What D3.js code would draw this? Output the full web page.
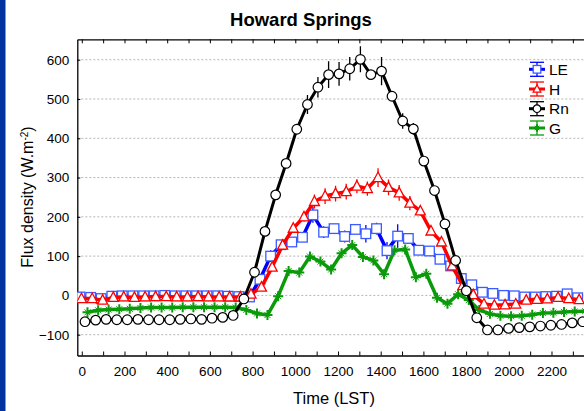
<!DOCTYPE html>
<html><head><meta charset="utf-8">
<script src="https://cdn.jsdelivr.net/npm/d3@7"></script>
<style>
body{margin:0;background:#fff;}
text{font-family:"Liberation Sans",Arial,sans-serif;}
</style></head>
<body><svg id="c" width="584" height="411"></svg>
<script>
// half-hourly sample positions on the time axis
const time = [15,65,114,164,213,263,313,362,412,461,511,561,610,660,709,759,809,858,908,957,1007,1057,1106,1156,1205,1255,1305,1354,1404,1453,1503,1553,1602,1652,1701,1751,1801,1850,1900,1949,1999,2049,2098,2148,2197,2247,2297,2346];
const LE = [-4,-5,-8,-2,-1,-1,-1,-1,0,-1,-1,-1,-1,-1,-2,-3,-4,41,100,129,136,148,205,161,170,150,168,157,170,114,151,145,115,113,92,75,43,27,8,5,0,-1,-4,-4,-3,-2,4,-6];
const LE_err = [2,2,2,2,2,2,2,2,2,2,2,2,2,2,2,2,2,6,15,10,10,12,20,15,12,15,10,22,15,22,30,12,8,6,6,5,5,3,3,3,3,3,3,3,3,3,3,3];
const H = [-8,-8,-12,-5,-4,-5,-4,-3,-3,-4,-4,-3,-4,-4,-4,-4,3,21,72,128,171,200,239,253,259,264,278,272,300,275,261,235,215,164,136,75,25,2,-22,-25,-24,-22,-12,-10,-9,-5,-8,-11];
const H_err = [3,3,3,3,3,3,3,3,3,3,3,3,3,3,3,3,4,6,8,10,10,12,18,20,20,20,18,18,24,20,20,18,12,10,8,6,5,3,3,3,3,3,3,3,3,3,3,3];
const Rn = [-67,-63,-61,-62,-62,-61,-62,-62,-62,-61,-60,-61,-58,-56,-51,-9,59,163,256,336,423,486,530,562,564,577,601,562,571,507,444,424,342,267,182,89,12,-57,-88,-88,-84,-82,-80,-78,-76,-74,-70,-67];
const Rn_err = [3,3,3,3,3,3,3,3,3,3,3,3,3,3,3,5,8,10,10,10,10,24,26,34,30,30,33,10,36,12,20,15,10,8,6,5,5,4,3,3,3,3,3,3,3,3,3,3];
const G = [-43,-38,-36,-35,-34,-32,-31,-31,-31,-30,-30,-30,-30,-30,-31,-37,-46,-50,-2,62,58,99,86,66,107,128,98,89,54,115,117,46,55,-6,-21,3,-12,-37,-47,-52,-53,-52,-49,-45,-44,-42,-41,-40];
const G_err = [2,2,2,2,2,2,2,2,2,2,2,2,2,2,2,2,2,2,6,6,6,6,6,6,6,6,6,6,6,6,6,6,6,6,6,6,6,3,3,3,3,3,3,3,3,3,3,3];

const yTicks = [-100,0,100,200,300,400,500,600];
const xTickLabels = [0,200,400,600,800,1000,1200,1400,1600,1800,2000,2200];
const xTicks = [0,100,200,300,400,500,600,700,800,900,1000,1100,1200,1300,1400,1500,1600,1700,1800,1900,2000,2100,2200,2300];
const seriesNames = ["LE","H","Rn","G"];

const svg = d3.select("#c");
const L = 77.3, R = 594.2, T = 39.3, B = 355.5;
const x = d3.scaleLinear().domain([-21, 2400]).range([L, R]);
const y = d3.scaleLinear().domain([-153, 652]).range([B, T]);

// left blue strip
svg.append("rect").attr("x",0).attr("y",0).attr("width",5.5).attr("height",411).attr("fill","#0033a0");

// title
svg.append("text").attr("x",301).attr("y",26).attr("text-anchor","middle")
  .attr("font-size","18.5px").attr("font-weight","bold").text("Howard Springs");

// gridlines
svg.append("g").selectAll("line").data(yTicks).join("line")
  .attr("x1",L).attr("x2",R).attr("y1",d=>y(d)).attr("y2",d=>y(d))
  .attr("stroke","#b4b4b4").attr("stroke-width",1).attr("stroke-dasharray","2,2");

// axes
const fmt = d => xTickLabels.includes(d) ? String(d) : "";
const gx = svg.append("g").attr("transform",`translate(0,${B})`)
  .call(d3.axisBottom(x).tickValues(xTicks).tickFormat(fmt).tickSizeInner(-4).tickSizeOuter(0).tickPadding(11));
const gxt = svg.append("g").attr("transform",`translate(0,${T})`)
  .call(d3.axisTop(x).tickValues(xTicks).tickFormat("").tickSizeInner(-4).tickSizeOuter(0));
const gy = svg.append("g").attr("transform",`translate(${L},0)`)
  .call(d3.axisLeft(y).tickValues(yTicks).tickSizeInner(-3).tickSizeOuter(0).tickPadding(8));
[gx,gxt,gy].forEach(g=>{
  g.selectAll("text").attr("font-size","13.5px").attr("fill","#000").attr("font-family","Liberation Sans, Arial, sans-serif");
  g.selectAll("line").attr("stroke","#000");
  g.select(".domain").attr("stroke","#000").attr("stroke-width",1.3);
});

// axis titles
svg.append("text").attr("x",334).attr("y",404).attr("text-anchor","middle")
  .attr("font-size","16.5px").text("Time (LST)");
const yl = svg.append("text").attr("transform","translate(33,197) rotate(-90)")
  .attr("text-anchor","middle").attr("font-size","16px");
yl.append("tspan").text("Flux density (W.m");
yl.append("tspan").attr("font-size","10px").attr("baseline-shift","super").text("-2");
yl.append("tspan").text(")");

// clip
svg.append("clipPath").attr("id","clip").append("rect")
  .attr("x",L).attr("y",T).attr("width",R-L).attr("height",B-T);
const plot = svg.append("g").attr("clip-path","url(#clip)");

function marker(g, type, color, s){
  if(type==="square"){
    g.append("rect").attr("x",-s).attr("y",-s).attr("width",2*s).attr("height",2*s)
      .attr("fill","#fff").attr("stroke",color).attr("stroke-width",1.3);
  } else if(type==="triangle"){
    g.append("path").attr("d",`M0,${-s*1.1}L${s},${s*0.8}L${-s},${s*0.8}Z`)
      .attr("fill","#fff").attr("stroke",color).attr("stroke-width",1.3);
  } else if(type==="circle"){
    g.append("circle").attr("r",s).attr("fill","#fff").attr("stroke",color).attr("stroke-width",1.2);
  } else {
    g.append("path").attr("d",`M${-s},0H${s}M0,${-s}V${s}`).attr("stroke",color).attr("stroke-width",2);
    const d = s*0.6;
    g.append("path").attr("d",`M${-d},${-d}L${d},${d}M${-d},${d}L${d},${-d}`).attr("stroke",color).attr("stroke-width",1);
  }
}

const series = [
  {name:"G", vals:G, err:G_err, color:"#0a9a0a", mcolor:"#0a9a0a", type:"star", dx:2.5, lw:3.5, ms:5},
  {name:"LE", vals:LE, err:LE_err, color:"#0000ff", mcolor:"#3a5cff", type:"square", dx:-5, lw:3.5, ms:4.8},
  {name:"H", vals:H, err:H_err, color:"#ff0000", mcolor:"#ff0000", type:"triangle", dx:-3.5, lw:3.5, ms:5},
  {name:"Rn", vals:Rn, err:Rn_err, color:"#000000", mcolor:"#000000", type:"circle", dx:0, lw:3, ms:4.8}
];

series.forEach(s=>{
  const pts = time.map((t,i)=>({x:x(t)+s.dx, v:s.vals[i], e:s.err[i]}));
  const g = plot.append("g");
  g.append("path").datum(pts).attr("fill","none").attr("stroke",s.color).attr("stroke-width",s.lw)
    .attr("stroke-linejoin","round").attr("d",d3.line().x(d=>d.x).y(d=>y(d.v)));
  g.selectAll("line.eb").data(pts).join("line").attr("class","eb")
    .attr("x1",d=>d.x).attr("x2",d=>d.x).attr("y1",d=>y(d.v-d.e)).attr("y2",d=>y(d.v+d.e))
    .attr("stroke",s.color).attr("stroke-width",1.3);
  pts.forEach(p=>{
    const m = g.append("g").attr("transform",`translate(${p.x},${y(p.v)})`);
    marker(m, s.type, s.mcolor, s.ms);
  });
});

// legend
const legRows = [69.3, 89, 108.7, 128];
const legSeries = seriesNames.map(n=>series.find(s=>s.name===n));
legSeries.forEach((s,i)=>{
  const cy = legRows[i], cx = 537;
  const g = svg.append("g");
  g.append("line").attr("x1",cx-8).attr("x2",cx+8).attr("y1",cy).attr("y2",cy).attr("stroke",s.color).attr("stroke-width",3);
  g.append("line").attr("x1",cx).attr("x2",cx).attr("y1",cy-7).attr("y2",cy+7).attr("stroke",s.color).attr("stroke-width",1.3);
  g.append("line").attr("x1",cx-7).attr("x2",cx+7).attr("y1",cy-7).attr("y2",cy-7).attr("stroke",s.color).attr("stroke-width",1.3);
  g.append("line").attr("x1",cx-7).attr("x2",cx+7).attr("y1",cy+7).attr("y2",cy+7).attr("stroke",s.color).attr("stroke-width",1.3);
  const m = g.append("g").attr("transform",`translate(${cx},${cy})`);
  marker(m, s.type, s.mcolor, 3.8);
  g.append("text").attr("x",549).attr("y",cy+5.6).attr("font-size","15.5px").text(s.name);
});
</script></body></html>
